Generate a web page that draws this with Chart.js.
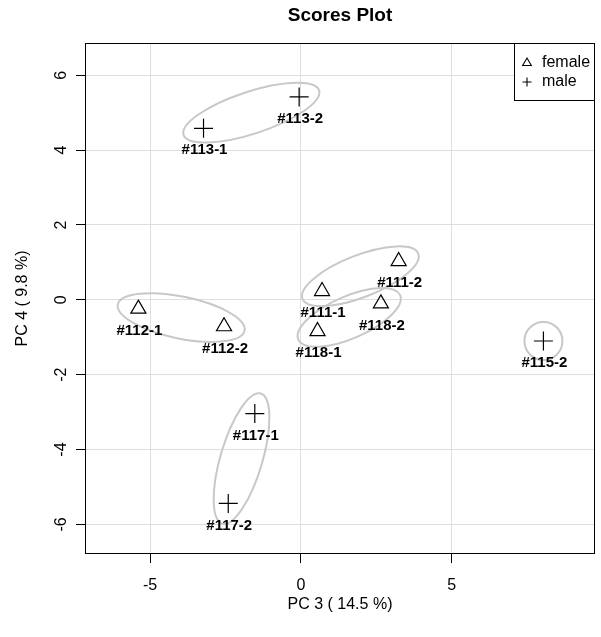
<!DOCTYPE html>
<html>
<head>
<meta charset="utf-8">
<script src="https://cdn.jsdelivr.net/npm/chart.js@4.4.1/dist/chart.umd.min.js"></script>
<style>
    html, body { margin: 0; padding: 0; background: #fff; }
    #wrap { width: 601px; height: 637px; }
</style>
</head>
<body>
<div id="wrap"><canvas id="scoresPlot" width="601" height="637"></canvas></div>
<script>
// sample scores
const sampleIds = ['#111-1', '#111-2', '#112-1', '#112-2', '#113-1', '#113-2', '#115-2', '#117-1', '#117-2', '#118-1', '#118-2'];
const sampleSex = ['female', 'female', 'female', 'female', 'male', 'male', 'male', 'male', 'male', 'female', 'female'];
const pc3Scores = [0.70, 3.24, -5.39, -2.55, -3.23, -0.06, 8.04, -1.53, -2.41, 0.55, 2.65];
const pc4Scores = [0.23, 1.03, -0.24, -0.71, 4.58, 5.42, -1.10, -3.04, -5.44, -0.84, -0.10];

const sexLevels = ['female', 'male'];
const xTickValues = [-5, 0, 5];
const yTickValues = [-6, -4, -2, 0, 2, 4, 6];
const xRange = [-7.16, 9.75];
const yRange = [-6.79, 6.86];

const plotTitle = 'Scores Plot';
const xTitle = 'PC 3 ( 14.5 %)';
const yTitle = 'PC 4 ( 9.8 %)';

const FONT = '"Liberation Sans", Arial, sans-serif';
const symbolFor = { female: 'triangle', male: 'cross' };

// group replicates by sample number (#113-1 / #113-2 -> #113)
function replicateGroups() {
    const groups = {};
    sampleIds.forEach((id, i) => {
        const key = id.slice(0, id.lastIndexOf('-'));
        (groups[key] = groups[key] || []).push(i);
    });
    return Object.values(groups);
}

function drawSymbol(ctx, style, x, y, r) {
    ctx.beginPath();
    if (style === 'triangle') {
        ctx.moveTo(x, y - r);
        ctx.lineTo(x + r * 0.866, y + r / 2);
        ctx.lineTo(x - r * 0.866, y + r / 2);
        ctx.closePath();
    } else {
        ctx.moveTo(x - r, y); ctx.lineTo(x + r, y);
        ctx.moveTo(x, y - r); ctx.lineTo(x, y + r);
    }
    ctx.stroke();
}

const scoresDecor = {
    id: 'scoresDecor',
    beforeDatasetsDraw(chart) {
        const { ctx, scales: { x, y } } = chart;
        ctx.save();
        ctx.strokeStyle = '#c8c8c8';
        ctx.lineWidth = 2;
        replicateGroups().forEach(idx => {
            const pts = idx.map(i => ({ px: x.getPixelForValue(pc3Scores[i]), py: y.getPixelForValue(pc4Scores[i]) }));
            ctx.beginPath();
            if (pts.length === 1) {
                ctx.arc(pts[0].px, pts[0].py, 19, 0, Math.PI * 2);
            } else {
                const [a, b] = pts;
                const half = Math.hypot(b.px - a.px, b.py - a.py) / 2;
                const ang = Math.atan2(b.py - a.py, b.px - a.px);
                ctx.ellipse((a.px + b.px) / 2, (a.py + b.py) / 2, half + 21, 21, ang, 0, Math.PI * 2);
            }
            ctx.stroke();
        });
        ctx.restore();
    },
    afterDatasetsDraw(chart) {
        const { ctx } = chart;
        ctx.save();
        ctx.fillStyle = '#000';
        ctx.font = 'bold 15px ' + FONT;
        ctx.textAlign = 'center';
        ctx.textBaseline = 'middle';
        chart.data.datasets.forEach((ds, di) => {
            chart.getDatasetMeta(di).data.forEach((el, i) => {
                ctx.fillText(ds.data[i].id, el.x + 1, el.y + 22);
            });
        });
        ctx.restore();
    },
    afterDraw(chart) {
        const { ctx, chartArea: { left, right, top, bottom } } = chart;
        ctx.save();
        // plot box
        ctx.strokeStyle = '#000';
        ctx.lineWidth = 1;
        ctx.strokeRect(left + 0.5, top + 0.5, right - left - 1, bottom - top - 1);

        // title
        ctx.fillStyle = '#000';
        ctx.font = 'bold 19px ' + FONT;
        ctx.textAlign = 'center';
        ctx.textBaseline = 'middle';
        ctx.fillText(plotTitle, (left + right) / 2, 16);

        // legend, top right inside the box
        const lx = right - 81, ly = top;
        ctx.fillStyle = '#fff';
        ctx.fillRect(lx + 0.5, ly + 0.5, 80, 57);
        ctx.strokeRect(lx + 0.5, ly + 0.5, 80, 57);
        ctx.lineWidth = 1.1;
        ctx.font = '16px ' + FONT;
        ctx.textAlign = 'left';
        sexLevels.forEach((s, i) => {
            const rowY = ly + 20 + i * 19;
            drawSymbol(ctx, symbolFor[s], lx + 13, rowY, s === 'female' ? 5 : 4.5);
            ctx.fillStyle = '#000';
            ctx.fillText(s, lx + 28, rowY);
        });
        ctx.restore();
    }
};

const datasets = sexLevels.map(s => ({
    label: s,
    data: sampleIds.map((id, i) => ({ x: pc3Scores[i], y: pc4Scores[i], id }))
        .filter((p, i) => sampleSex[i] === s),
    pointStyle: symbolFor[s],
    pointRadius: s === 'female' ? 8.7 : 9.5,
    pointHoverRadius: s === 'female' ? 8.7 : 9.5,
    borderColor: '#000',
    backgroundColor: 'rgba(0,0,0,0)',
    borderWidth: 1.2
}));

Chart.defaults.font.family = FONT;
Chart.defaults.color = '#000';

new Chart(document.getElementById('scoresPlot'), {
    type: 'scatter',
    data: { datasets },
    plugins: [scoresDecor],
    options: {
        responsive: false,
        animation: false,
        events: [],
        layout: { autoPadding: false, padding: { top: 43, right: 6, left: 0, bottom: 0 } },
        plugins: {
            legend: { display: false },
            tooltip: { enabled: false },
            title: { display: false }
        },
        scales: {
            x: {
                type: 'linear',
                min: xRange[0],
                max: xRange[1],
                afterBuildTicks: scale => { scale.ticks = xTickValues.map(v => ({ value: v })); },
                afterFit: scale => { scale.height = 83; },
                grid: { color: '#dedede', lineWidth: 1, tickColor: '#000', tickLength: 9, drawTicks: true },
                border: { display: false },
                ticks: { font: { size: 16 }, color: '#000', padding: 13, maxRotation: 0 },
                title: { display: true, text: xTitle, font: { size: 16 }, color: '#000', padding: { top: 0, bottom: 23 } }
            },
            y: {
                type: 'linear',
                min: yRange[0],
                max: yRange[1],
                afterBuildTicks: scale => { scale.ticks = yTickValues.map(v => ({ value: v })); },
                afterFit: scale => { scale.width = 85; },
                grid: { color: '#dedede', lineWidth: 1, tickColor: '#000', tickLength: 9, drawTicks: true },
                border: { display: false },
                ticks: { font: { size: 16 }, color: '#000', padding: 7, minRotation: 90, maxRotation: 90, crossAlign: 'center' },
                title: { display: true, text: yTitle, font: { size: 16 }, color: '#000', padding: { top: 13, bottom: 0 } }
            }
        }
    }
});
</script>
</body>
</html>
